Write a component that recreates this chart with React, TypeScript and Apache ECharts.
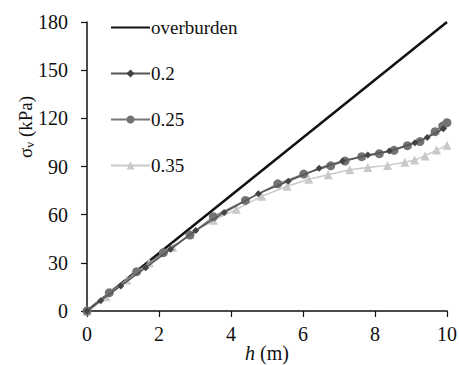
import React, { useEffect, useRef } from "react";
import * as echarts from "echarts";

const overburden: [number, number][] = [[0, 0], [10, 180]];

const s020: [number, number][] = [
  [0, 0], [0.38, 6.4], [0.94, 15.6], [1.63, 27], [2.32, 38.4], [3.02, 50.2],
  [3.81, 61.3], [4.76, 73.1], [5.59, 80.8], [6.45, 88.9], [7.1, 93.4],
  [7.8, 97.2], [8.4, 99.6], [9.11, 104.8], [9.45, 108], [9.9, 113.5],
];

const s025: [number, number][] = [
  [0, 0], [0.62, 11.4], [1.38, 24.5], [2.12, 36.3], [2.86, 47.3], [3.51, 58.7],
  [4.4, 68.9], [5.3, 79.2], [6.02, 85.3], [6.77, 90.4], [7.17, 93.4],
  [7.63, 96.1], [8.12, 98.0], [8.53, 100.1], [8.9, 103], [9.25, 105.5],
  [9.67, 111.7], [9.88, 115.2], [10.0, 117.3],
];

const s035: [number, number][] = [
  [0, 0], [0.53, 8.9], [1.1, 19.3], [1.73, 30], [2.38, 39.7], [2.86, 47.8],
  [3.51, 56.5], [4.15, 63.3], [4.85, 71.4], [5.56, 77.7], [6.16, 82.1],
  [6.7, 84.8], [7.3, 88], [7.8, 89.4], [8.35, 90.7], [8.83, 92.6], [9.1, 94],
  [9.39, 96.6], [9.71, 100.2], [10.0, 103.2],
];

const seriesNames = ["overburden", "0.2", "0.25", "0.35"];
const yAxisTitle = "σ{s|v} (kPa)";
const xAxisTitle = "{i|h} (m)";
const FONT = "Liberation Serif";
const CSS = `.chart-root text, .chart-root tspan { font-family: 'Liberation Serif', 'Times New Roman', serif !important; }`;

export default function App() {
  const ref = useRef<HTMLDivElement>(null);
  useEffect(() => {
    if (!ref.current) return;
    const chart = echarts.init(ref.current, undefined, { renderer: "svg" });
    chart.setOption({
      animation: false,
      backgroundColor: "#fff",
      textStyle: { fontFamily: FONT },
      grid: { left: 87, right: 12, top: 22, bottom: 54, containLabel: false, outerBoundsMode: "none" },
      legend: {
        orient: "vertical",
        left: 105,
        top: 13,
        itemWidth: 39,
        itemHeight: 10,
        itemGap: 27,
        data: [
          { name: seriesNames[0], itemStyle: { opacity: 0 } },
          seriesNames[1],
          seriesNames[2],
          seriesNames[3],
        ],
        textStyle: { fontFamily: FONT, fontSize: 19, color: "#111", padding: [0, 0, 0, -4] },
      },
      graphic: [
        {
          type: "text",
          x: 25,
          y: 127,
          rotation: Math.PI / 2,
          style: {
            text: yAxisTitle,
            fontFamily: FONT,
            fontSize: 19,
            fill: "#111",
            align: "center",
            verticalAlign: "middle",
            rich: {
              s: { fontFamily: FONT, fontSize: 12, fill: "#111", verticalAlign: "bottom", padding: [9, 0, 0, 0] },
            },
          },
        },
      ],
      xAxis: {
        type: "value",
        min: 0,
        max: 10,
        interval: 2,
        name: xAxisTitle,
        nameLocation: "middle",
        nameGap: 32,
        nameMoveOverlap: false,
        nameTextStyle: {
          fontFamily: FONT,
          fontSize: 20,
          color: "#111",
          rich: { i: { fontStyle: "italic", fontFamily: FONT, fontSize: 20, color: "#111" } },
        },
        axisLine: { lineStyle: { color: "#111", width: 1.5 } },
        axisTick: { inside: false, length: 6, lineStyle: { color: "#111", width: 1.2 } },
        axisLabel: { fontFamily: FONT, fontSize: 20, color: "#111", margin: 13 },
        splitLine: { show: false },
      },
      yAxis: {
        type: "value",
        min: 0,
        max: 180,
        interval: 30,
        axisLine: { show: true, lineStyle: { color: "#111", width: 1.5 } },
        axisTick: { show: true, inside: false, length: 6, lineStyle: { color: "#111", width: 1.2 } },
        axisLabel: { fontFamily: FONT, fontSize: 20, color: "#111", margin: 19 },
        splitLine: { show: false },
      },
      series: [
        {
          name: "overburden",
          type: "line",
          data: overburden,
          symbol: "none",
          lineStyle: { color: "#111", width: 2.5 },
          itemStyle: { color: "#111" },
          z: 1,
        },
        {
          name: "0.35",
          type: "line",
          data: s035,
          symbol: "triangle",
          symbolSize: 9,
          lineStyle: { color: "#c9c9c9", width: 1.5 },
          itemStyle: { color: "#c9c9c9" },
          z: 2,
        },
        {
          name: "0.25",
          type: "line",
          data: s025,
          symbol: "circle",
          symbolSize: 9,
          lineStyle: { color: "#777", width: 1.5 },
          itemStyle: { color: "#737373" },
          z: 3,
        },
        {
          name: "0.2",
          type: "line",
          data: s020,
          symbol: "diamond",
          symbolSize: 7,
          lineStyle: { color: "#555", width: 1.5 },
          itemStyle: { color: "#444" },
          z: 4,
        },
      ],
    });
    return () => chart.dispose();
  }, []);
  return (
    <>
      <style>{CSS}</style>
      <div
        ref={ref}
        className="chart-root"
        style={{ position: "absolute", left: 0, top: 0, width: 459, height: 365 }}
      />
    </>
  );
}
